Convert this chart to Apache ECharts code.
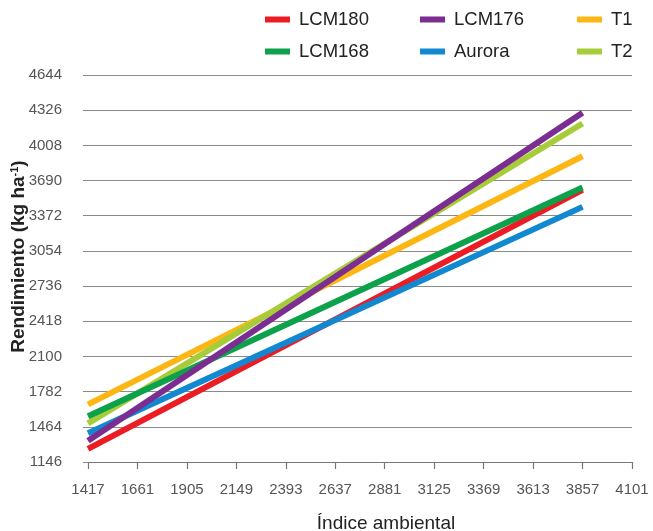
<!DOCTYPE html>
<html>
<head>
<meta charset="utf-8">
<script src="https://cdn.jsdelivr.net/npm/echarts@6/dist/echarts.min.js"></script>
<style>
html,body{margin:0;padding:0;background:#fff;}
#chart{width:653px;height:531px;}
</style>
</head>
<body>
<div id="chart"></div>
<script>
// Data
var xStart = 1417;
var xEnd = 3857;
var seriesNames = ['LCM180', 'LCM168', 'LCM176', 'Aurora', 'T1', 'T2'];
var startValues = [1265, 1559, 1338, 1406, 1667, 1495];
var endValues = [3605, 3628, 4302, 3452, 3910, 4206];
var seriesColors = ['#ec1c24', '#0ca14a', '#7b2d91', '#1188d0', '#fdb714', '#a6cd39'];
var xTicks = [1417, 1661, 1905, 2149, 2393, 2637, 2881, 3125, 3369, 3613, 3857, 4101];
var yTicks = [1146, 1464, 1782, 2100, 2418, 2736, 3054, 3372, 3690, 4008, 4326, 4644];
// drawing order (bottom to top)
var drawOrder = ['LCM180', 'Aurora', 'T1', 'T2', 'LCM168', 'LCM176'];

var chart = echarts.init(document.getElementById('chart'));
var font = 'Liberation Sans, Arial, Helvetica, sans-serif';

var series = drawOrder.map(function (name) {
  var i = seriesNames.indexOf(name);
  return {
    name: name,
    type: 'line',
    symbol: 'none',
    silent: true,
    animation: false,
    lineStyle: { width: 6, color: seriesColors[i], cap: 'butt' },
    itemStyle: { color: seriesColors[i] },
    data: [[xStart, startValues[i]], [xEnd, endValues[i]]]
  };
});

var legendLefts = [265, 420, 577];
var legendTops = [10, 42];
var legends = seriesNames.map(function (name, i) {
  var col = Math.floor(i / 2), row = i % 2;
  return {
    data: [{ name: name, icon: 'rect' }],
    left: legendLefts[col],
    top: legendTops[row],
    itemWidth: 25,
    itemHeight: 6,
    padding: 0,
    selectedMode: false,
    textStyle: { fontFamily: font, fontSize: 18.5, color: '#222', padding: [0, 0, 0, 4] }
  };
});

function plain(v) { return String(v); }

chart.setOption({
  backgroundColor: '#fff',
  animation: false,
  legend: legends,
  grid: { left: 88, right: 21, top: 75, bottom: 69, containLabel: false, outerBoundsMode: 'none' },
  xAxis: {
    type: 'value',
    min: xTicks[0],
    max: xTicks[xTicks.length - 1],
    interval: xTicks[1] - xTicks[0],
    name: 'Índice ambiental',
    nameLocation: 'middle',
    nameGap: 52,
    nameMoveOverlap: false,
    nameTextStyle: { fontFamily: font, fontSize: 19, color: '#222', padding: [0, 0, 0, 52] },
    axisLine: { show: true, lineStyle: { color: '#777', width: 1.2 } },
    axisTick: { show: true, length: 7, lineStyle: { color: '#777', width: 1.2 } },
    axisLabel: { fontFamily: font, fontSize: 15, color: '#555', margin: 20, formatter: plain },
    splitLine: { show: false }
  },
  yAxis: {
    type: 'value',
    min: yTicks[0],
    max: yTicks[yTicks.length - 1],
    interval: yTicks[1] - yTicks[0],
    name: 'Rendimiento (kg ha{s|-1})',
    nameLocation: 'middle',
    nameGap: 60,
    nameMoveOverlap: false,
    nameRotate: 90,
    nameTextStyle: {
      fontFamily: font, fontSize: 19, fontWeight: 'bold', color: '#222',
      padding: [0, 0, 0, 24],
      rich: { s: { fontFamily: font, fontSize: 11, fontWeight: 'bold', color: '#222', verticalAlign: 'top', padding: [0, 0, 8, 0] } }
    },
    axisLine: { show: false },
    axisTick: { show: true, length: 5, lineStyle: { color: '#888', width: 1 } },
    axisLabel: { fontFamily: font, fontSize: 15, color: '#555', margin: 26, formatter: plain },
    splitLine: { show: true, lineStyle: { color: '#8a8a8a', width: 1.2 } }
  },
  series: series
});
</script>
</body>
</html>
